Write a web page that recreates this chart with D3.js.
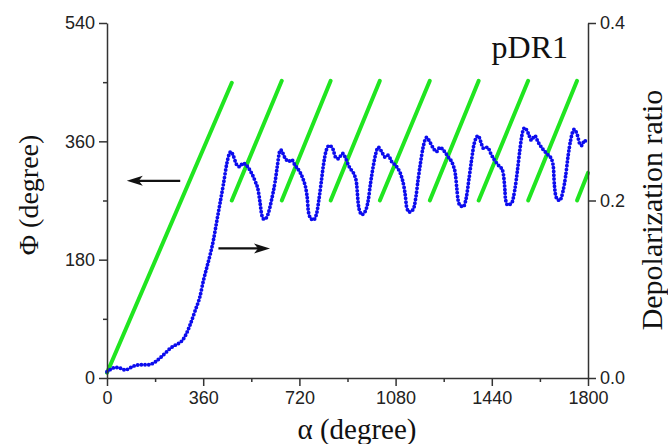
<!DOCTYPE html>
<html>
<head>
<meta charset="utf-8">
<script src="https://cdn.jsdelivr.net/npm/d3@7"></script>
<style>
  body { margin: 0; background: #fff; }
  svg { display: block; }
  .tick text { font-family: "Liberation Sans", Arial, sans-serif; font-size: 18px; fill: #222; }
  .domain, .tick line { stroke: #333; stroke-width: 1.5; }
  .title { font-family: "Liberation Serif", "Times New Roman", serif; fill: #111; }
</style>
</head>
<body>
<svg width="668" height="444"></svg>
<script>
// tick values
const alphaTicks = [0, 360, 720, 1080, 1440, 1800];
const alphaMinor = [180, 540, 900, 1260, 1620];
const phiTicks = [0, 180, 360, 540];
const phiMinor = [90, 270, 450];
const ratioTicks = [0, 0.2, 0.4];

// green Phi segments (start/end alpha and Phi)
const segAlpha0 = [0, 467, 654, 837, 1021, 1208, 1391, 1576, 1759];
const segAlpha1 = [467, 654, 837, 1021, 1208, 1391, 1576, 1759, 1800];
const segPhi0 = [8, 270, 270, 270, 270, 270, 270, 270, 270];
const segPhi1 = [449, 452, 452, 452, 452, 452, 452, 452, 312];

// blue depolarization ratio
const alphaDR = [0, 15, 31, 50, 68, 90, 112, 135, 155, 180, 200, 218, 235, 249, 262, 274, 292, 311, 330, 348,
  361, 373, 386, 398, 411, 423, 436, 448, 457, 464, 473, 486, 497, 508, 517, 535, 554, 566, 573, 579,
  587, 595, 604, 616, 629, 638, 645, 650, 666, 679, 691, 703, 722, 735, 745, 750, 753, 760, 772, 785,
  793, 801, 809, 819, 832, 847, 853, 865, 882, 894, 903, 915, 928, 934, 937, 940, 947, 953, 965, 978,
  986, 996, 1006, 1015, 1028, 1040, 1052, 1065, 1084, 1102, 1111, 1117, 1121, 1131, 1146, 1156, 1164, 1173, 1183, 1196,
  1208, 1221, 1233, 1246, 1258, 1277, 1295, 1304, 1309, 1313, 1320, 1333, 1345, 1354, 1364, 1374, 1389, 1399, 1408, 1424,
  1436, 1449, 1464, 1480, 1486, 1489, 1491, 1499, 1514, 1526, 1536, 1545, 1553, 1563, 1576, 1588, 1601, 1613, 1628, 1645,
  1663, 1671, 1673, 1676, 1682, 1694, 1706, 1716, 1725, 1735, 1748, 1760, 1769, 1777, 1787, 1792];
const ratioDR = [0.007, 0.010, 0.012, 0.011, 0.009, 0.012, 0.0146, 0.015, 0.015, 0.018, 0.023, 0.028, 0.033, 0.036, 0.038, 0.040, 0.047, 0.060, 0.076, 0.092,
  0.110, 0.124, 0.139, 0.155, 0.177, 0.197, 0.219, 0.241, 0.252, 0.255, 0.250, 0.240, 0.238, 0.242, 0.241, 0.234, 0.222, 0.211, 0.197, 0.184,
  0.179, 0.180, 0.186, 0.201, 0.221, 0.240, 0.254, 0.257, 0.248, 0.244, 0.246, 0.240, 0.232, 0.223, 0.212, 0.201, 0.189, 0.181, 0.178, 0.186,
  0.201, 0.219, 0.238, 0.255, 0.262, 0.257, 0.250, 0.247, 0.253, 0.247, 0.240, 0.234, 0.227, 0.219, 0.208, 0.197, 0.187, 0.184, 0.187, 0.201,
  0.219, 0.238, 0.253, 0.260, 0.255, 0.249, 0.251, 0.244, 0.238, 0.227, 0.216, 0.204, 0.193, 0.187, 0.190, 0.204, 0.223, 0.242, 0.260, 0.271,
  0.266, 0.259, 0.255, 0.260, 0.257, 0.249, 0.240, 0.229, 0.214, 0.202, 0.195, 0.193, 0.204, 0.223, 0.245, 0.264, 0.273, 0.266, 0.259, 0.260,
  0.253, 0.246, 0.240, 0.234, 0.223, 0.212, 0.202, 0.195, 0.197, 0.212, 0.234, 0.257, 0.274, 0.282, 0.276, 0.268, 0.273, 0.266, 0.259, 0.253,
  0.247, 0.236, 0.223, 0.212, 0.203, 0.200, 0.210, 0.227, 0.249, 0.268, 0.280, 0.274, 0.264, 0.262, 0.268, 0.266];

const svg = d3.select("svg");
const margin = {top: 23, right: 80, bottom: 66, left: 107};
const width = +svg.attr("width") - margin.left - margin.right;
const height = +svg.attr("height") - margin.top - margin.bottom;

const x = d3.scaleLinear().domain([0, 1800]).range([0, width]);
const yPhi = d3.scaleLinear().domain([0, 540]).range([height, 0]);
const yDR = d3.scaleLinear().domain([0, 0.4]).range([height, 0]);

const g = svg.append("g").attr("transform", `translate(${margin.left},${margin.top})`);

// green Phi lines
g.append("g")
  .selectAll("line")
  .data(segAlpha0.map((a, i) => ({a0: a, a1: segAlpha1[i], p0: segPhi0[i], p1: segPhi1[i]})))
  .enter()
  .append("line")
  .attr("x1", d => x(d.a0))
  .attr("y1", d => yPhi(d.p0))
  .attr("x2", d => x(d.a1))
  .attr("y2", d => yPhi(d.p1))
  .attr("stroke", "#20e520")
  .attr("stroke-width", 4)
  .attr("stroke-linecap", "round");

// blue dotted ratio curve
const drLine = d3.line()
  .x((d, i) => x(alphaDR[i]))
  .y(d => yDR(d))
  .curve(d3.curveMonotoneX);

g.append("path")
  .datum(ratioDR)
  .attr("d", drLine)
  .attr("fill", "none")
  .attr("stroke", "#0c0cee")
  .attr("stroke-width", 3.9)
  .attr("stroke-linecap", "round")
  .attr("stroke-dasharray", "0 3.7");

// axes
g.append("g").attr("transform", `translate(0,${height})`)
  .call(d3.axisBottom(x).tickValues(alphaTicks).tickSize(8).tickSizeOuter(0).tickPadding(5)
    .tickFormat(d3.format("d")));
g.append("g").attr("transform", `translate(0,${height})`)
  .call(d3.axisBottom(x).tickValues(alphaMinor).tickSize(4).tickSizeOuter(0).tickFormat(""))
  .select(".domain").remove();

g.append("g")
  .call(d3.axisLeft(yPhi).tickValues(phiTicks).tickSize(8).tickSizeOuter(0).tickPadding(4)
    .tickFormat(d3.format("d")));
g.append("g")
  .call(d3.axisLeft(yPhi).tickValues(phiMinor).tickSize(4).tickSizeOuter(0).tickFormat(""))
  .select(".domain").remove();

g.append("g").attr("transform", `translate(${width},0)`)
  .call(d3.axisRight(yDR).tickValues(ratioTicks).tickSize(8).tickSizeOuter(0).tickPadding(4)
    .tickFormat(d3.format(".1f")));

// arrows
function arrow(x0, x1, y) {
  const dir = x1 > x0 ? 1 : -1;
  g.append("line")
    .attr("x1", x0).attr("y1", y)
    .attr("x2", x1 - dir * 12).attr("y2", y)
    .attr("stroke", "#111").attr("stroke-width", 2.2);
  g.append("path")
    .attr("d", `M${x1},${y}L${x1 - dir * 16},${y - 5}L${x1 - dir * 12},${y}L${x1 - dir * 16},${y + 5}Z`)
    .attr("fill", "#111");
}
arrow(x(274), x(74), yPhi(300));
arrow(x(417), x(610), yDR(0.146));

// titles
svg.append("text").attr("class", "title")
  .attr("x", 357).attr("y", 439)
  .attr("text-anchor", "middle")
  .style("font-size", "29px")
  .text("α (degree)");

svg.append("text").attr("class", "title")
  .attr("transform", "translate(38,195) rotate(-90)")
  .attr("text-anchor", "middle")
  .style("font-size", "28px")
  .text("Φ (degree)");

svg.append("text").attr("class", "title")
  .attr("transform", "translate(662,210) rotate(-90)")
  .attr("text-anchor", "middle")
  .style("font-size", "30px")
  .text("Depolarization ratio");

svg.append("text").attr("class", "title")
  .attr("x", 568).attr("y", 58)
  .attr("text-anchor", "end")
  .style("font-size", "32px")
  .text("pDR1");
</script>
</body>
</html>
